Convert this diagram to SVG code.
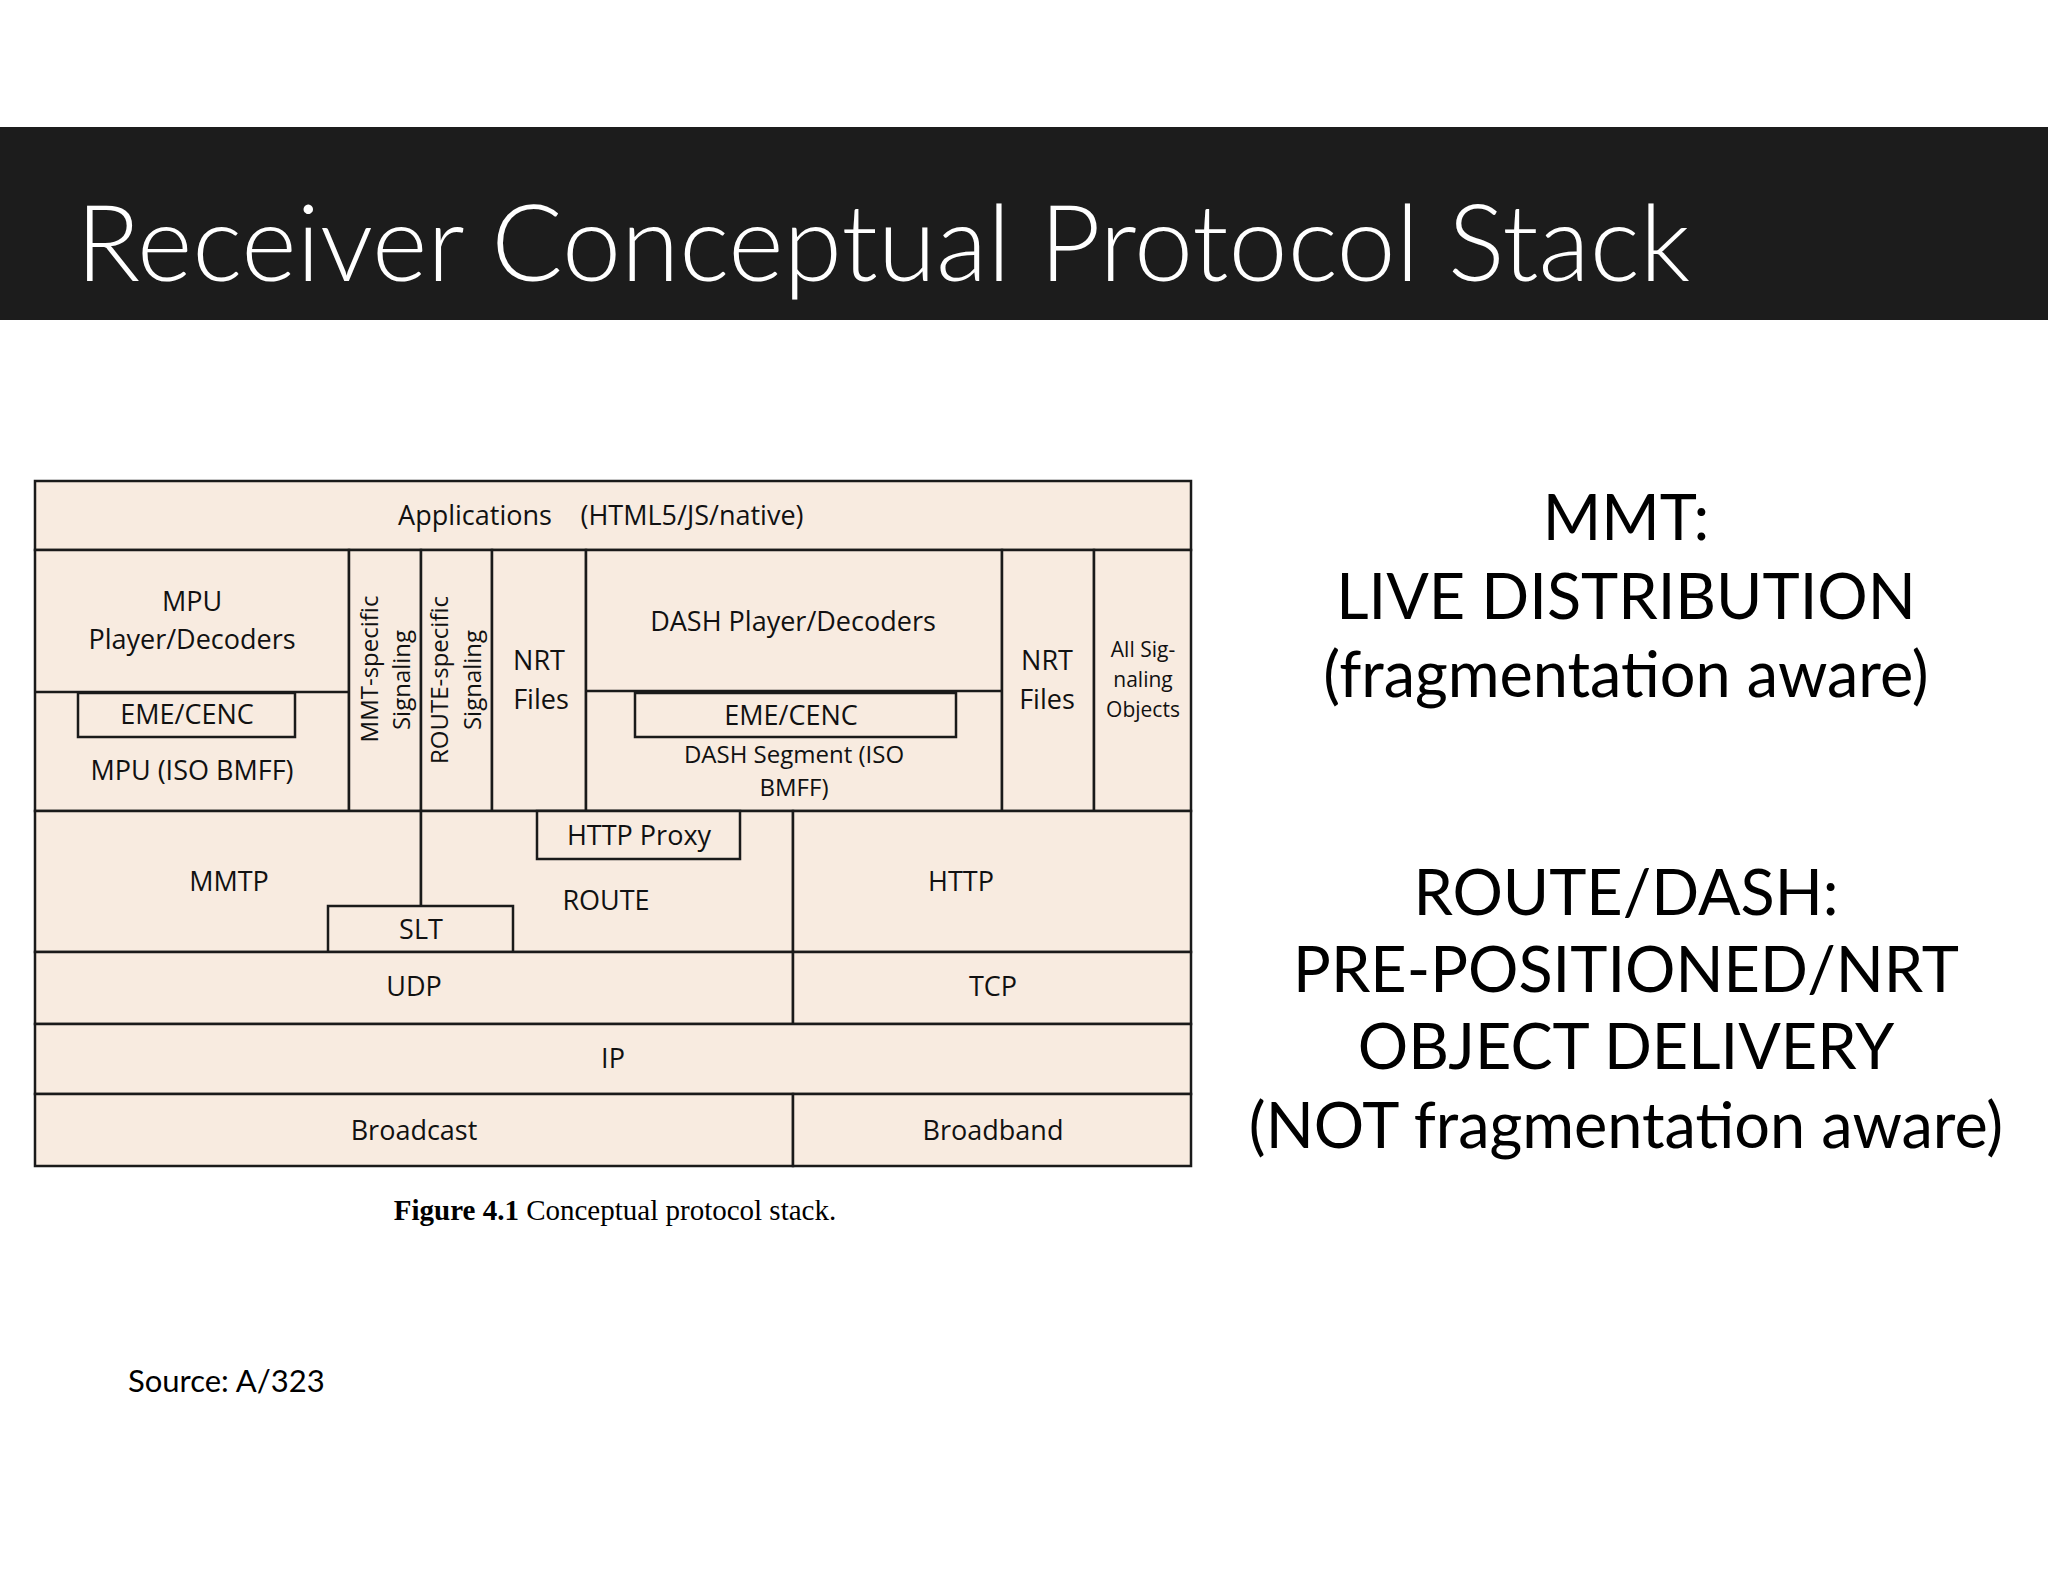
<svg xmlns="http://www.w3.org/2000/svg" width="2048" height="1582" viewBox="0 0 2048 1582">
<style>
.c{fill:#f8ebe0;stroke:#1a1a1a;stroke-width:2.5}
.b{fill:none;stroke:#1a1a1a;stroke-width:2.5}
.t{font-family:"Open Sans","DejaVu Sans",sans-serif;font-size:27px;fill:#111;text-anchor:middle}
.v{font-size:24px}
.s{font-size:21px}
.r{font-family:Lato,"Open Sans",sans-serif;font-size:63px;fill:#000;text-anchor:middle}
</style>
<rect width="2048" height="1582" fill="#fff"/>
<g id="header">
<rect x="0" y="127" width="2048" height="193" fill="#1c1c1c"/>
<text x="76" y="281" font-family="Lato,'Open Sans',sans-serif" font-weight="300" font-size="106" fill="#fff">Receiver Conceptual Protocol Stack</text>
</g>
<g id="stack">
<g id="apps"><rect class="c" x="35" y="481" width="1156" height="69"/><text class="t" x="475" y="525">Applications</text><text class="t" x="692" y="525">(HTML5/JS/native)</text></g>
<g id="mpu"><rect class="c" x="35" y="550" width="314" height="261"/><line class="b" x1="35" y1="692" x2="349" y2="692"/>
<text class="t" x="192" y="611">MPU</text><text class="t" x="192" y="649">Player/Decoders</text>
<rect class="c" x="78" y="693" width="217" height="44"/><text class="t" x="187" y="724">EME/CENC</text>
<text class="t" x="192" y="780">MPU (ISO BMFF)</text></g>
<g id="mmtsig"><rect class="c" x="349" y="550" width="72" height="261"/>
<text class="t v" transform="translate(378,669) rotate(-90)">MMT-specific</text>
<text class="t v" transform="translate(410,680) rotate(-90)">Signaling</text></g>
<g id="routesig"><rect class="c" x="421" y="550" width="71" height="261"/>
<text class="t v" transform="translate(448,680) rotate(-90)">ROUTE-specific</text>
<text class="t v" transform="translate(481,680) rotate(-90)">Signaling</text></g>
<g id="nrt1"><rect class="c" x="492" y="550" width="94" height="261"/><text class="t" x="539" y="670">NRT</text><text class="t" x="541" y="709">Files</text></g>
<g id="dash"><rect class="c" x="586" y="550" width="416" height="261"/><line class="b" x1="586" y1="691" x2="1002" y2="691"/>
<text class="t" x="793" y="631">DASH Player/Decoders</text>
<rect class="c" x="635" y="693" width="321" height="44"/><text class="t" x="791" y="725">EME/CENC</text>
<text class="t v" x="794" y="763">DASH Segment (ISO</text><text class="t v" x="794" y="796">BMFF)</text></g>
<g id="nrt2"><rect class="c" x="1002" y="550" width="92" height="261"/><text class="t" x="1047" y="670">NRT</text><text class="t" x="1047" y="709">Files</text></g>
<g id="allsig"><rect class="c" x="1094" y="550" width="97" height="261"/><text class="t s" x="1143" y="657">All Sig-</text><text class="t s" x="1143" y="687">naling</text><text class="t s" x="1143" y="717">Objects</text></g>
<g id="mmtp"><rect class="c" x="35" y="811" width="386" height="141"/><text class="t" x="229" y="891">MMTP</text></g>
<g id="route"><rect class="c" x="421" y="811" width="372" height="141"/><text class="t" x="606" y="910">ROUTE</text></g>
<g id="proxy"><rect class="c" x="537" y="811" width="203" height="48"/><text class="t" x="639" y="845">HTTP Proxy</text></g>
<g id="slt"><rect class="c" x="328" y="906" width="185" height="46"/><text class="t" x="421" y="939">SLT</text></g>
<g id="http"><rect class="c" x="793" y="811" width="398" height="141"/><text class="t" x="961" y="891">HTTP</text></g>
<g id="udp"><rect class="c" x="35" y="952" width="758" height="72"/><text class="t" x="414" y="996">UDP</text></g>
<g id="tcp"><rect class="c" x="793" y="952" width="398" height="72"/><text class="t" x="993" y="996">TCP</text></g>
<g id="ip"><rect class="c" x="35" y="1024" width="1156" height="70"/><text class="t" x="613" y="1068">IP</text></g>
<g id="broadcast"><rect class="c" x="35" y="1094" width="758" height="72"/><text class="t" x="414" y="1140">Broadcast</text></g>
<g id="broadband"><rect class="c" x="793" y="1094" width="398" height="72"/><text class="t" x="993" y="1140">Broadband</text></g>
</g>
<g id="connectors"/>
<text x="615" y="1220" font-family="'Liberation Serif',serif" font-size="29" text-anchor="middle" fill="#000"><tspan font-weight="bold">Figure 4.1</tspan> Conceptual protocol stack.</text>
<text x="128" y="1392" font-family="Lato,'Open Sans',sans-serif" font-size="31" fill="#000">Source: A/323</text>
<g id="notes">
<text class="r" x="1626" y="540">MMT:</text>
<text class="r" x="1626" y="619">LIVE DISTRIBUTION</text>
<text class="r" x="1626" y="697">(fragmentation aware)</text>
<text class="r" x="1626" y="915">ROUTE/DASH:</text>
<text class="r" x="1626" y="992">PRE-POSITIONED/NRT</text>
<text class="r" x="1626" y="1069">OBJECT DELIVERY</text>
<text class="r" x="1626" y="1148">(NOT fragmentation aware)</text>
</g>
</svg>
